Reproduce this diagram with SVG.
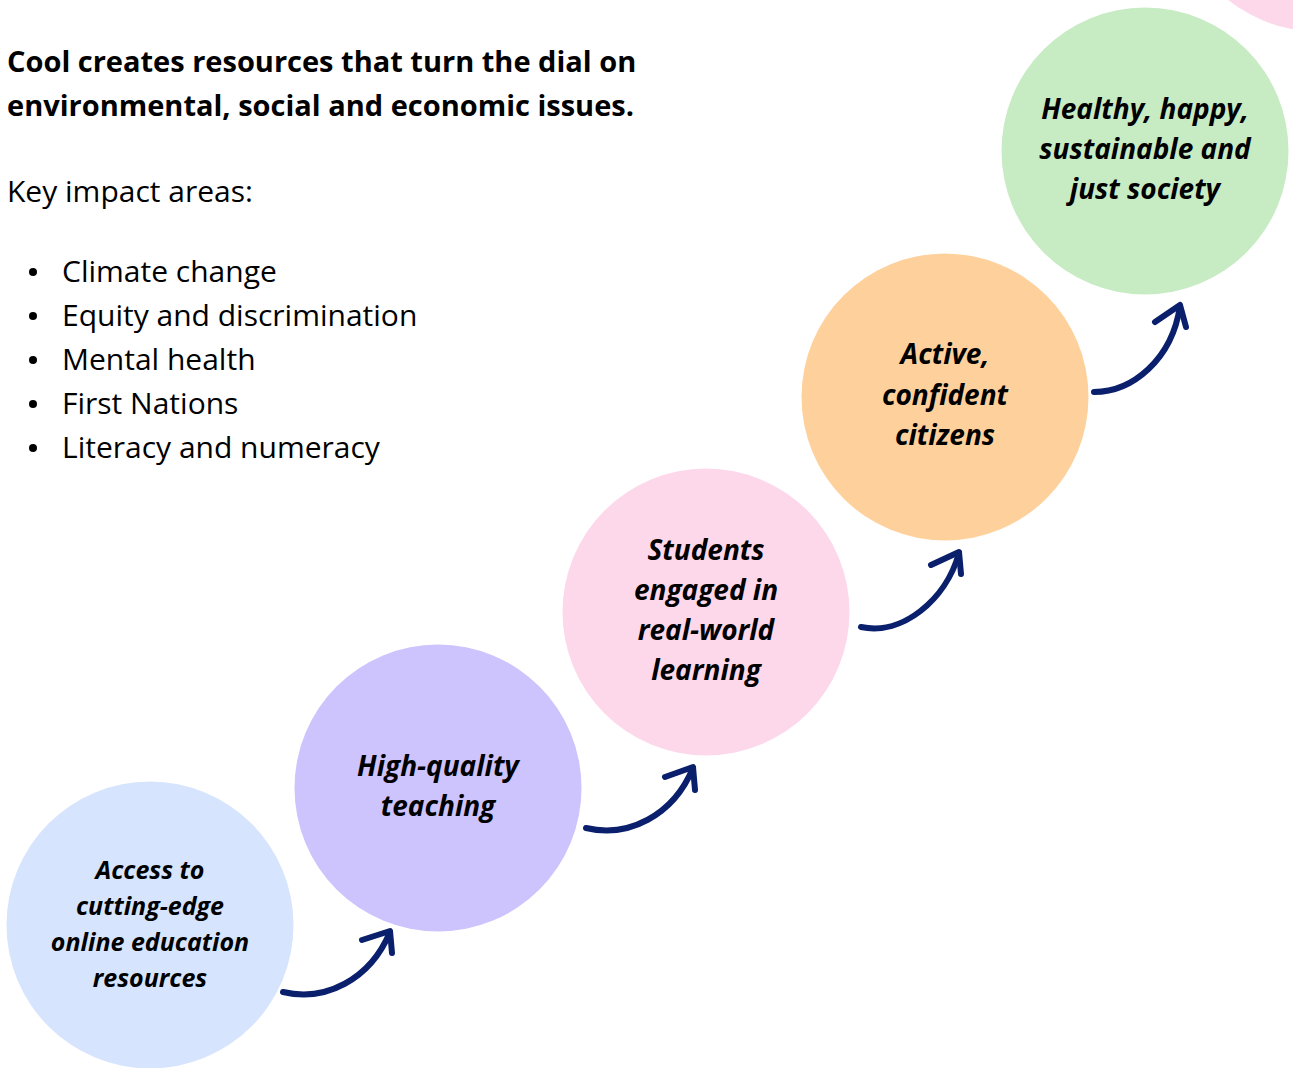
<svg xmlns="http://www.w3.org/2000/svg" width="1293" height="1068" viewBox="0 0 1293 1068">
<style>
.intro{font-family:"Open Sans","Noto Sans",sans-serif;fill:#000;font-size:30px}
.b{font-weight:bold;font-size:29px}
.lbl{font-family:"Open Sans","Noto Sans",sans-serif;font-weight:bold;font-style:italic;fill:#000;font-size:28px;text-anchor:middle}
.sm{font-size:25px}
.arr{fill:none;stroke:#0a206c;stroke-width:6;stroke-linecap:round;stroke-linejoin:round}
</style>
<rect width="1293" height="1068" fill="#fff"/>
<g id="intro">
<text class="intro b" x="7" y="72">Cool creates resources that turn the dial on</text>
<text class="intro b" x="7" y="116">environmental, social and economic issues.</text>
<text class="intro" x="7" y="202">Key impact areas:</text>
<circle cx="33" cy="272" r="4"/>
<circle cx="33" cy="316" r="4"/>
<circle cx="33" cy="360" r="4"/>
<circle cx="33" cy="404" r="4"/>
<circle cx="33" cy="448" r="4"/>
<text class="intro" x="62" y="282">Climate change</text>
<text class="intro" x="62" y="326">Equity and discrimination</text>
<text class="intro" x="62" y="370">Mental health</text>
<text class="intro" x="62" y="414">First Nations</text>
<text class="intro" x="62" y="458">Literacy and numeracy</text>
</g>
<g id="node-extra"><circle cx="1318" cy="-112" r="143.5" fill="#fdd8ea"/></g>
<g id="node-access">
<circle cx="150" cy="925" r="143.5" fill="#d6e4fd"/>
<text class="lbl sm" x="150" y="879">Access to</text>
<text class="lbl sm" x="150" y="915">cutting-edge</text>
<text class="lbl sm" x="150" y="951">online education</text>
<text class="lbl sm" x="150" y="987">resources</text>
</g>
<g id="node-teaching">
<circle cx="438" cy="788" r="143.5" fill="#cdc3fd"/>
<text class="lbl" x="438" y="776">High-quality</text>
<text class="lbl" x="438" y="816">teaching</text>
</g>
<g id="node-students">
<circle cx="706" cy="612" r="143.5" fill="#fdd8ea"/>
<text class="lbl" x="706" y="560">Students</text>
<text class="lbl" x="706" y="600">engaged in</text>
<text class="lbl" x="706" y="640">real-world</text>
<text class="lbl" x="706" y="680">learning</text>
</g>
<g id="node-citizens">
<circle cx="945" cy="397" r="143.5" fill="#fed19c"/>
<text class="lbl" x="945" y="364">Active,</text>
<text class="lbl" x="945" y="405">confident</text>
<text class="lbl" x="945" y="445">citizens</text>
</g>
<g id="node-society">
<circle cx="1145" cy="151" r="143.5" fill="#c7ebc3"/>
<text class="lbl" x="1145" y="119">Healthy, happy,</text>
<text class="lbl" x="1145" y="159">sustainable and</text>
<text class="lbl" x="1145" y="199">just society</text>
</g>
<g id="connectors">
<path class="arr" d="M283,992 C325,1002 370,980 390,932"/>
<path class="arr" d="M362,940 L390,931 L392,953"/>
<path class="arr" d="M586,828 C628,838 673,816 693,768"/>
<path class="arr" d="M665,777 L693,767 L695,790"/>
<path class="arr" d="M861,627 C902,636 946,600 959,553"/>
<path class="arr" d="M931,565 L959,552 L961,574"/>
<path class="arr" d="M1094,392 C1132,392 1172,360 1180,306"/>
<path class="arr" d="M1155,322 L1180,305 L1186,327"/>
</g>
</svg>
